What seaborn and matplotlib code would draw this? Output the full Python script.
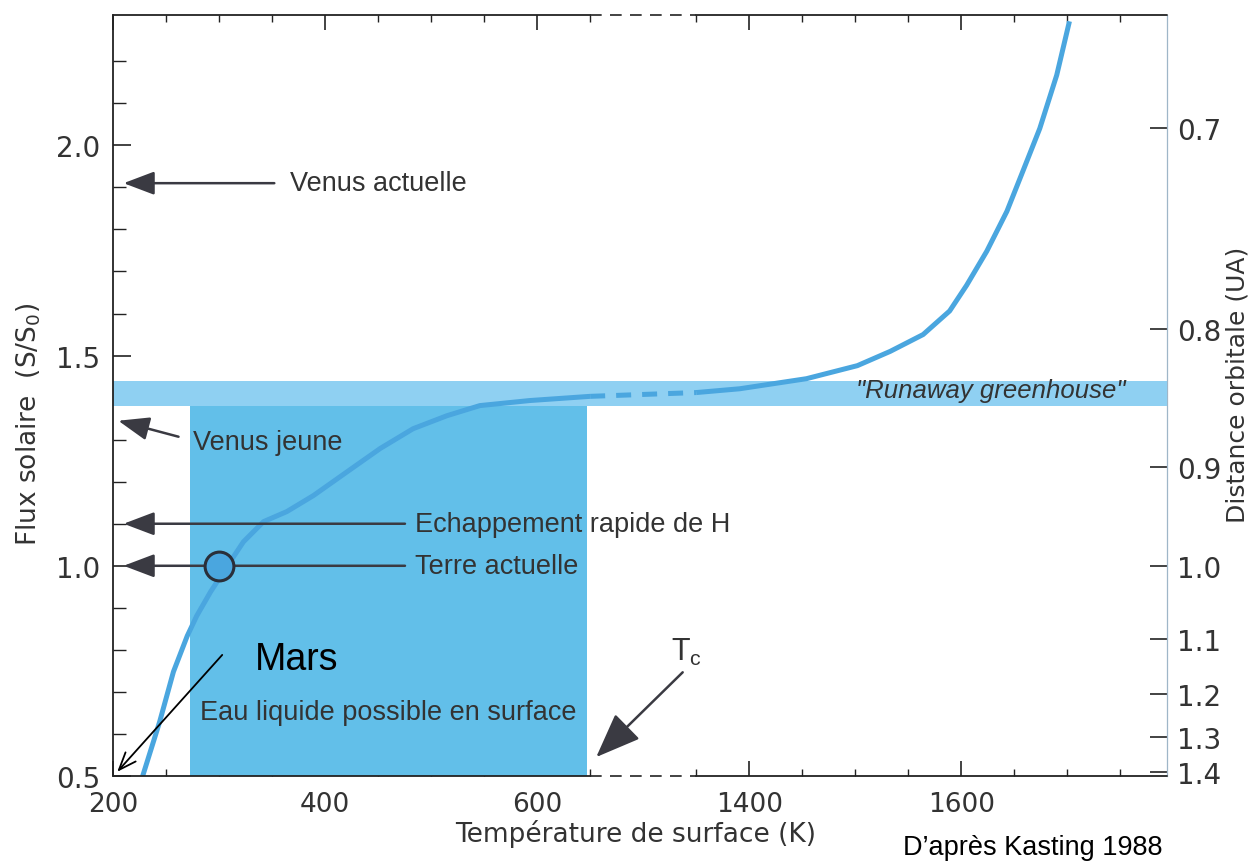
import numpy as np
import pandas as pd
import matplotlib
matplotlib.use("Agg")
import matplotlib.pyplot as plt
import seaborn as sns

# ---------------- data ----------------
temp_k = [228, 244, 257, 270, 279, 292, 308, 323, 342, 364, 389, 421, 452, 483, 515, 546, 593, 650,
          1350, 1391, 1454, 1502, 1533, 1564, 1589, 1605, 1624, 1643, 1658, 1674, 1690, 1702]
flux = [0.500, 0.629, 0.748, 0.833, 0.881, 0.938, 1.000, 1.057, 1.105, 1.129, 1.167, 1.224, 1.279,
        1.326, 1.357, 1.381, 1.393, 1.403,
        1.412, 1.421, 1.445, 1.476, 1.510, 1.550, 1.606, 1.667, 1.748, 1.843, 1.938, 2.040, 2.167, 2.295]

axis_break = (650, 1350)          # temperature range compressed on the x axis
water_range = (273, 647)          # liquid water possible at the surface
runaway_band = (1.38, 1.44)       # "Runaway greenhouse" flux band
x_major = [200, 400, 600, 1400, 1600]
x_minor = [250, 300, 350, 450, 500, 550, 650, 1350, 1450, 1500, 1550, 1650, 1700, 1750]
y_major = [0.5, 1.0, 1.5, 2.0]
y_minor = [0.6, 0.7, 0.8, 0.9, 1.1, 1.2, 1.3, 1.4, 1.6, 1.7, 1.8, 1.9, 2.1, 2.2]
dist_ticks = [0.7, 0.8, 0.9, 1.0, 1.1, 1.2, 1.3, 1.4]

venus_now = 1.91
venus_young = 1.345
h_escape = 1.10
earth_t, earth_s = 300, 1.0
tc_tip = (690, 0.545)
mars_tip = (204, 0.51)
mars_start = (303, 0.788)

# ---------------- style ----------------
sns.set_theme(style="ticks")
plt.rcParams["font.family"] = ["DejaVu Sans"]
BLUE_LINE = "#4aa6df"
BLUE_WATER = "#62bfe9"
BLUE_BAND = "#8fd0f2"
DARK = "#3a3a42"
TXT = "#333333"
ANN_FONT = ["Liberation Sans", "DejaVu Sans"]

LO, HI = axis_break
GAP_W = 100.0


def fwd(t):
    t = np.asarray(t, dtype=float)
    return np.where(t <= LO, t,
                    np.where(t >= HI, t - (HI - LO) + GAP_W, LO + (t - LO) * GAP_W / (HI - LO)))


def inv(v):
    v = np.asarray(v, dtype=float)
    return np.where(v <= LO, v,
                    np.where(v >= LO + GAP_W, v + (HI - LO) - GAP_W, LO + (v - LO) * (HI - LO) / GAP_W))


fig = plt.figure(figsize=(12.52, 8.62), dpi=100)
ax = fig.add_axes([113 / 1252, 1 - 777 / 862, 1054 / 1252, 761 / 862])
ax.set_xscale("function", functions=(fwd, inv))
XMAX = 1794
ax.set_xlim(200, XMAX)
ax.set_ylim(0.5, 2.31)

# shaded regions
ax.fill_between(list(water_range), 0.5, runaway_band[0], color=BLUE_WATER, lw=0, zorder=1)
ax.axhspan(runaway_band[0], runaway_band[1], color=BLUE_BAND, lw=0, zorder=1)

# curve: solid outside the axis break, dashed across it
df = pd.DataFrame({"T": temp_k, "S": flux})
seg1 = df[df["T"] <= LO]
seg2 = df[df["T"] >= HI]
gap = df.iloc[len(seg1) - 1:len(seg1) + 1]
for seg in (seg1, seg2):
    sns.lineplot(data=seg, x="T", y="S", ax=ax, color=BLUE_LINE, lw=3.6, zorder=3, sort=False)
sns.lineplot(data=gap, x="T", y="S", ax=ax, color=BLUE_LINE, lw=3.6, zorder=3, sort=False,
             linestyle=(0, (3, 2.2)))
for ln in ax.get_lines():
    ln.set_solid_joinstyle("round")
    ln.set_solid_capstyle("butt")

# spines with break
for s in ("top", "bottom", "right"):
    ax.spines[s].set_visible(False)
ax.spines["left"].set_color("#222222")
ax.spines["left"].set_linewidth(1.3)
tr = ax.get_xaxis_transform()
for yy in (0, 1):
    ax.plot([200, LO], [yy, yy], transform=tr, color="#222222", lw=1.3, clip_on=False, zorder=5)
    ax.plot([LO, HI], [yy, yy], transform=tr, color="#222222", lw=1.2, clip_on=False, zorder=5,
            linestyle=(0, (7, 5)))
    ax.plot([HI, XMAX], [yy, yy], transform=tr, color="#222222", lw=1.3, clip_on=False, zorder=5)

# ticks
ax.set_xticks(x_major)
ax.set_xticklabels([str(v) for v in x_major])
ax.set_xticks(x_minor, minor=True)
ax.set_yticks(y_major)
ax.set_yticklabels([f"{v:.1f}" for v in y_major])
ax.set_yticks(y_minor, minor=True)
ax.tick_params(axis="x", which="both", direction="in", top=True, bottom=True, color="#222222",
               labelsize=19, labelcolor=TXT, pad=11)
ax.tick_params(axis="x", which="major", length=11, width=1.2)
ax.tick_params(axis="x", which="minor", length=5, width=1.0)
ax.tick_params(axis="y", which="both", direction="in", left=True, right=False, color="#222222",
               labelsize=20, labelcolor=TXT, pad=9)
ax.tick_params(axis="y", which="major", length=13, width=1.2)
ax.tick_params(axis="y", which="minor", length=9, width=1.0)

# secondary axis: orbital distance
sec = ax.secondary_yaxis("right", functions=(lambda s: 1 / np.sqrt(np.clip(s, 1e-6, None)),
                                             lambda d: 1 / np.clip(d, 1e-6, None) ** 2))
sec.set_yticks(dist_ticks)
sec.set_yticklabels([f"{v:.1f}" for v in dist_ticks])
sec.tick_params(axis="y", direction="in", length=12, width=1.2, color="#222222",
                labelsize=20, labelcolor=TXT, pad=7)
sec.spines["right"].set_color("#9fb6c8")
sec.spines["right"].set_linewidth(0.9)

# axis labels
ax.set_xlabel("Température de surface (K)", fontsize=19, color=TXT)
ax.xaxis.set_label_coords(0.496, -0.057)
ax.set_ylabel("Flux solaire  (S/S$_0$)", fontsize=19, color=TXT)
ax.yaxis.set_label_coords(-0.066, 0.463)
fig.text(1226 / 1252, 1 - 385 / 862, "Distance orbitale (UA)", rotation=90, fontsize=18,
         color=TXT, ha="left", va="center")

# annotations with filled arrows
arrow_kw = dict(arrowstyle="-|>,head_length=0.95,head_width=0.36", color=DARK, lw=1.8,
                mutation_scale=20, shrinkA=4, shrinkB=0)
ax.annotate("Venus actuelle", xy=(210, venus_now), xytext=(367, venus_now), ha="left", va="center",
            fontsize=19.5, color=TXT, family=ANN_FONT,
            arrowprops=dict(arrow_kw, relpos=(0, 0.5), shrinkA=9))
ax.annotate("Venus jeune", xy=(205, venus_young), xytext=(275, 1.295), ha="left", va="center",
            fontsize=19.5, color=TXT, family=ANN_FONT,
            arrowprops=dict(arrow_kw, relpos=(0, 0.55), shrinkA=8))
ax.annotate("Echappement rapide de H", xy=(210, h_escape), xytext=(485, h_escape), ha="left",
            va="center", fontsize=19.5, color=TXT, family=ANN_FONT,
            arrowprops=dict(arrow_kw, relpos=(0, 0.5), shrinkA=5))
ax.annotate("Terre actuelle", xy=(210, earth_s), xytext=(485, earth_s), ha="left", va="center",
            fontsize=19.5, color=TXT, family=ANN_FONT,
            arrowprops=dict(arrow_kw, relpos=(0, 0.5), shrinkA=5))
sns.scatterplot(x=[earth_t], y=[earth_s], ax=ax, s=430, color=BLUE_LINE, edgecolor="#2a2f3a",
                linewidth=2.2, zorder=6)

ax.annotate("T$_\\mathregular{c}$", xy=tc_tip, xytext=(65, 76), textcoords="offset points",
            ha="center", va="center", fontsize=22, color=TXT, family=ANN_FONT,
            arrowprops=dict(arrowstyle="-|>,head_length=1.4,head_width=0.55", color=DARK, lw=1.8,
                            mutation_scale=20, shrinkA=2, shrinkB=0, relpos=(0.6, 0.05)))

# Mars
ax.text(334, 0.779, "Mars", fontsize=27, color="black", family=ANN_FONT, ha="left", va="center")
ax.annotate("", xy=mars_tip, xytext=mars_start,
            arrowprops=dict(arrowstyle="->,head_length=0.9,head_width=0.35", color="black", lw=1.3,
                            mutation_scale=14, shrinkA=0, shrinkB=0))

ax.text(282, 0.652, "Eau liquide possible en surface", fontsize=19.5, color=TXT, family=ANN_FONT,
        ha="left", va="center")
ax.text(1628, 1.417, "\"Runaway greenhouse\"", fontsize=18.5, color=TXT, family=ANN_FONT,
        style="italic", ha="center", va="center", zorder=4)

fig.text(903 / 1252, 1 - 848 / 862, "D\u2019après Kasting 1988", fontsize=19.5, color="black",
         family=ANN_FONT, ha="left", va="center")

fig.savefig("out.png", dpi=100, facecolor="white")
